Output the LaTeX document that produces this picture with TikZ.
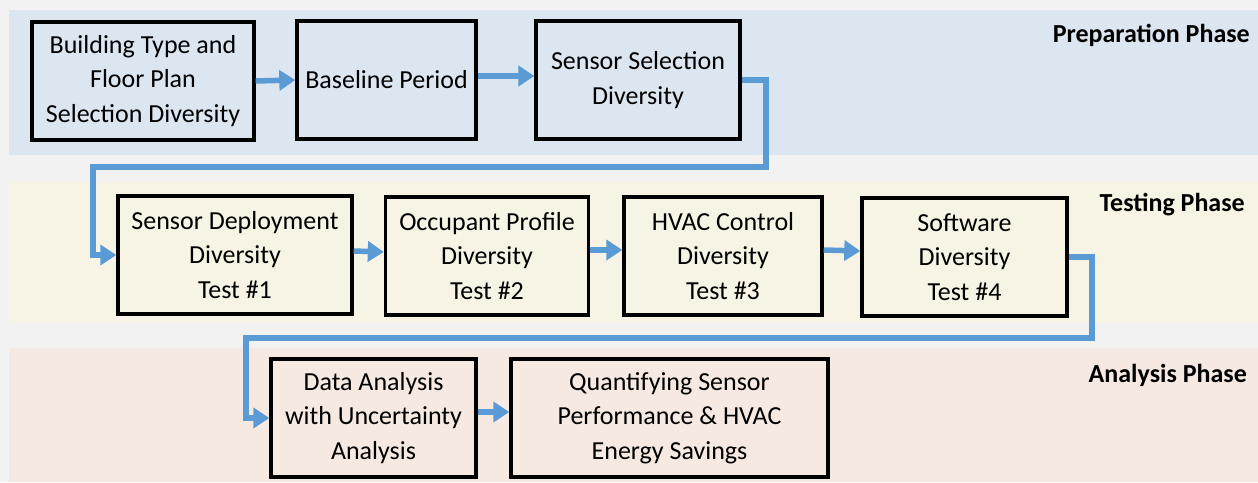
\documentclass[tikz,border=0pt]{standalone}
\usepackage{fontspec}
\setmainfont{Carlito}
\usetikzlibrary{arrows.meta}
\definecolor{bggray}{HTML}{F2F2F2}
\definecolor{prepband}{HTML}{DCE6F1}
\definecolor{testband}{HTML}{F8F4E5}
\definecolor{anaband}{HTML}{F6E9E1}
\definecolor{flowblue}{HTML}{5B9BD5}
\tikzset{
  stagebox/.style={draw=black, line width=3.4pt, align=center, inner sep=0pt,
    font=\fontsize{26}{34.5}\selectfont},
  phaselabel/.style={anchor=east, inner sep=0pt, font=\fontsize{26}{30}\selectfont\bfseries},
  flow/.style={draw=flowblue, line width=5.5pt, -{Triangle[length=16pt,width=20pt]}}
}
\begin{document}
\begin{tikzpicture}[x=1pt,y=-1pt]
\useasboundingbox (0,0) rectangle (1258,482);
\fill[bggray] (0,0) rectangle (1258,482);
\fill[prepband] (9,10) rectangle (1258,155);
\fill[testband] (9,182) rectangle (1258,323);
\fill[anaband] (9,348) rectangle (1258,482);

\node[phaselabel] (lp) at (1250,35) {Preparation Phase};
\node[phaselabel] (lt) at (1245,205) {Testing Phase};
\node[phaselabel] (la) at (1247,375) {Analysis Phase};

\node[stagebox, minimum width=222pt, minimum height=118pt] (b1) at (143,81) {Building Type and\\Floor Plan\\Selection Diversity};
\node[stagebox, minimum width=179pt, minimum height=118pt] (b2) at (386.5,80) {Baseline Period};
\node[stagebox, minimum width=204pt, minimum height=118pt] (b3) at (638,80) {Sensor Selection\\Diversity};

\node[stagebox, minimum width=234pt, minimum height=118pt] (b4) at (235,255) {Sensor Deployment\\Diversity\\Test \#1};
\node[stagebox, minimum width=203pt, minimum height=118pt] (b5) at (487,256) {Occupant Profile\\Diversity\\Test \#2};
\node[stagebox, minimum width=198pt, minimum height=118pt] (b6) at (723,256) {HVAC Control\\Diversity\\Test \#3};
\node[stagebox, minimum width=205pt, minimum height=118pt] (b7) at (964.5,257) {Software\\Diversity\\Test \#4};

\node[stagebox, minimum width=205pt, minimum height=118pt] (b8) at (373.5,418) {Data Analysis\\with Uncertainty\\Analysis};
\node[stagebox, minimum width=317pt, minimum height=118pt] (b9) at (669.5,418) {Quantifying Sensor\\Performance \& HVAC\\Energy Savings};

\coordinate (t1) at (766,167);
\coordinate (t2) at (93,167);
\coordinate (t3) at (1092,338);
\coordinate (t4) at (246,338);

\draw[flow] (b1.east) -- (b2.west);
\draw[flow] ([yshift=4pt]b2.east) -- ([yshift=4pt]b3.west);
\draw[flow] (b3.east) -| (t1) -- (t2) |- (b4.west);
\draw[flow] ([yshift=4pt]b4.east) -- ([yshift=4pt]b5.west);
\draw[flow] ([yshift=6pt]b5.east) -- ([yshift=6pt]b6.west);
\draw[flow] ([yshift=6pt]b6.east) -- ([yshift=6pt]b7.west);
\draw[flow] (b7.east) -| (t3) -- (t4) |- (b8.west);
\draw[flow] ([yshift=6pt]b8.east) -- ([yshift=6pt]b9.west);
\end{tikzpicture}
\end{document}
